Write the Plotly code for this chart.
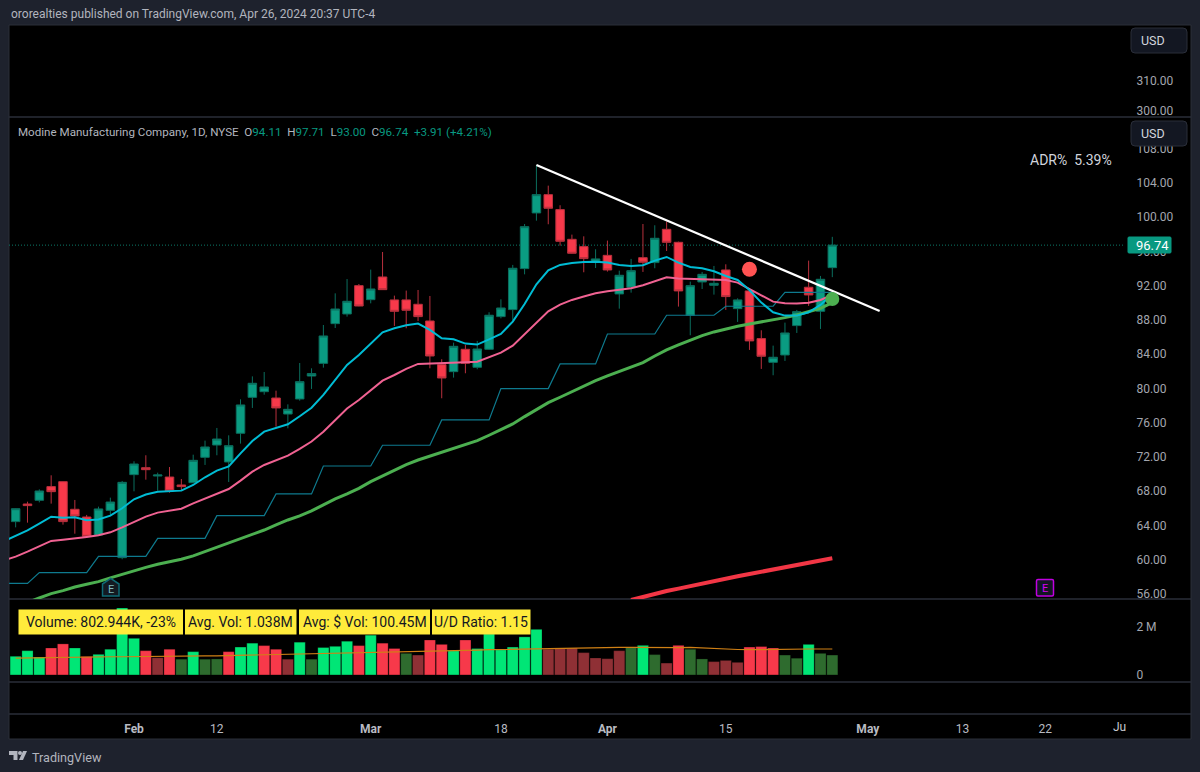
import plotly.graph_objects as go

# candles, one per trading day (Jan 17 - Apr 26 2024)
opens = [64.44, 66.50, 66.93, 68.53, 69.11, 65.88, 64.98, 62.88, 65.76, 60.23,
         69.93, 70.74, 69.77, 69.65, 68.72, 68.99, 71.95, 73.39, 71.41, 74.76,
         78.96, 79.62, 78.88, 77.01, 78.77, 81.45, 82.93, 87.57, 88.70, 92.01,
         90.37, 93.02, 90.34, 90.34, 89.83, 87.88, 82.78, 81.96, 84.57, 82.47,
         84.57, 88.39, 89.21, 94.00, 100.50, 102.64, 100.89, 97.42, 96.57, 94.81,
         95.55, 91.04, 91.82, 95.28, 94.70, 98.59, 97.07, 88.55, 92.44, 92.05,
         93.84, 89.32, 91.39, 85.82, 83.05, 83.91, 87.34, 91.82, 89.01, 94.11]
highs = [65.99, 66.77, 68.21, 69.85, 69.15, 66.97, 65.22, 66.19, 67.24, 69.19,
         71.49, 72.19, 70.16, 70.82, 69.42, 72.26, 73.90, 75.38, 74.52, 78.73,
         81.41, 81.92, 79.74, 78.14, 82.97, 82.35, 87.41, 91.11, 92.78, 92.20,
         93.88, 95.94, 90.84, 91.43, 91.50, 90.80, 83.41, 85.35, 85.08, 85.55,
         88.90, 90.41, 94.43, 99.21, 106.11, 103.69, 101.40, 97.97, 97.77, 96.26,
         97.27, 93.76, 95.13, 99.21, 99.06, 99.49, 97.15, 92.48, 93.61, 94.31,
         94.50, 90.53, 91.70, 86.79, 85.00, 87.69, 89.17, 94.93, 93.14, 97.71]
lows = [63.77, 64.32, 66.69, 66.54, 64.09, 63.03, 62.70, 62.76, 65.25, 60.04,
        67.98, 69.34, 68.06, 67.82, 68.06, 68.91, 71.06, 72.19, 69.07, 73.55,
        77.72, 79.27, 75.53, 75.34, 78.57, 79.94, 82.43, 87.06, 88.39, 89.60,
        89.94, 91.50, 87.30, 87.03, 87.88, 82.35, 78.85, 81.26, 81.77, 82.24,
        84.50, 88.19, 88.00, 93.33, 99.60, 99.18, 96.68, 95.75, 93.57, 94.07,
        93.65, 89.32, 91.19, 93.61, 94.04, 96.06, 89.56, 86.21, 91.62, 90.96,
        89.17, 87.77, 84.50, 82.28, 81.54, 83.21, 86.48, 89.64, 86.95, 93.00]
closes = [65.95, 66.31, 68.02, 67.94, 64.44, 65.10, 62.72, 65.92, 66.73, 69.03,
          71.17, 70.51, 69.89, 68.02, 68.53, 71.60, 73.16, 74.09, 73.31, 78.07,
          80.60, 80.17, 77.72, 77.56, 80.79, 81.73, 86.13, 89.28, 90.18, 89.63,
          91.62, 91.54, 89.01, 89.13, 88.39, 83.79, 81.22, 84.92, 82.94, 84.61,
          88.55, 89.40, 94.04, 98.90, 102.64, 101.05, 97.19, 95.79, 95.17, 95.13,
          93.84, 93.22, 93.76, 94.74, 97.54, 97.07, 91.39, 92.01, 93.33, 92.28,
          90.73, 90.34, 85.55, 83.76, 83.64, 86.48, 88.97, 90.92, 92.75, 96.74]

# moving averages, these start one bar before the first candle so they reach the pane edge
ema_fast = [62.15, 62.8, 63.42, 64.2, 65.02, 64.9, 64.94, 64.59, 64.7, 65.14, 66.0,
            67.05, 67.6, 67.94, 67.98, 68.06, 68.72, 69.62, 70.4, 70.9, 72.42,
            73.86, 74.95, 75.38, 75.81, 76.75, 77.75, 79.24, 81.0, 82.74, 83.91,
            85.2, 86.56, 87.03, 87.38, 87.57, 86.83, 85.86, 85.74, 85.24, 85.12,
            85.74, 86.36, 87.81, 89.87, 92.17, 93.8, 94.43, 94.66, 94.78, 94.81,
            94.7, 94.43, 94.31, 94.39, 94.93, 95.36, 94.7, 94.19, 94.04, 93.69,
            93.14, 92.67, 91.5, 90.03, 88.9, 88.51, 88.51, 88.9, 89.75, 91.04]
ema_slow = [59.9, 60.35, 60.93, 61.52, 62.18, 62.33, 62.53, 62.65, 62.84, 63.19, 63.77,
            64.44, 65.02, 65.49, 65.68, 65.95, 66.58, 67.16, 67.75, 68.25, 69.23,
            70.28, 71.06, 71.64, 72.15, 72.95, 73.8, 74.95, 76.3, 77.65, 78.65,
            79.82, 80.91, 81.57, 82.28, 82.86, 82.9, 82.9, 83.02, 83.06, 83.13,
            83.68, 84.18, 85.0, 86.36, 87.69, 89.01, 89.79, 90.34, 90.73, 91.12,
            91.35, 91.5, 91.7, 92.05, 92.56, 92.98, 92.83, 92.79, 92.79, 92.75,
            92.67, 92.36, 91.58, 90.88, 90.14, 89.95, 89.91, 90.02, 90.34, 90.92]
sma_50 = [54.2, 54.58, 55.0, 55.52, 56.03, 56.38, 56.8, 57.12, 57.43, 57.86, 58.28,
          58.71, 59.1, 59.45, 59.72, 60.04, 60.43, 60.93, 61.4, 61.87, 62.37,
          62.92, 63.46, 64.05, 64.63, 65.1, 65.69, 66.39, 67.09, 67.67, 68.33,
          69.11, 69.78, 70.48, 71.1, 71.64, 72.11, 72.5, 73.01, 73.44, 73.9,
          74.53, 75.15, 75.85, 76.71, 77.56, 78.34, 78.97, 79.63, 80.21, 80.91,
          81.46, 81.96, 82.47, 83.02, 83.79, 84.5, 85.08, 85.66, 86.17, 86.6,
          86.95, 87.26, 87.53, 87.77, 88.0, 88.27, 88.58, 88.93, 89.36, 90.02]
step_line = [57.23, 57.23, 57.23, 58.48, 58.48, 58.48, 58.48, 58.48, 60.39, 60.39, 60.39,
             60.39, 60.39, 62.49, 62.49, 62.49, 62.49, 62.49, 65.14, 65.14, 65.14,
             65.14, 65.14, 67.67, 67.67, 67.67, 67.67, 70.94, 70.94, 70.94, 70.94,
             70.94, 73.36, 73.36, 73.36, 73.36, 73.36, 76.32, 76.32, 76.32, 76.32,
             76.32, 79.98, 79.98, 79.98, 79.98, 79.98, 82.86, 82.86, 82.86, 82.86,
             86.36, 86.36, 86.36, 86.36, 86.36, 88.55, 88.55, 88.55, 88.55, 88.55,
             89.6, 89.6, 89.6, 89.6, 89.6, 91.23, 91.23, 91.23, 91.23, 91.23]
# long average only enters the pane near the end, first value is bar 52
sma_200 = [55.28, 55.67, 56.02, 56.33, 56.61, 56.92, 57.19, 57.46, 57.77, 58.05,
           58.32, 58.59, 58.83, 59.06, 59.33, 59.61, 59.88, 60.15]

# volume in millions
volume = [0.77, 1.00, 0.74, 1.11, 1.28, 1.11, 0.76, 0.85, 1.06, 2.76,
          1.51, 1.00, 0.71, 1.06, 0.65, 0.96, 0.65, 0.66, 0.96, 1.15,
          1.31, 1.21, 1.06, 0.65, 1.35, 0.65, 1.13, 1.18, 1.39, 1.21,
          1.64, 1.31, 1.09, 0.89, 0.82, 1.44, 1.26, 1.00, 1.44, 1.09,
          1.69, 1.04, 1.15, 1.57, 1.88, 1.06, 1.11, 1.11, 0.92, 0.70,
          0.67, 1.00, 1.13, 1.22, 0.84, 0.49, 1.22, 1.06, 0.66, 0.55,
          0.60, 0.52, 1.15, 1.17, 1.11, 0.82, 0.69, 1.26, 0.89, 0.82]
volume_kind = "GGGRRGRGGGGRrRgGggRGGRRrGgGGGRGRRgrRRGRGGGGGGrrrrrrrgGgrRggrrrRRRggGgg"
avg_volume = [0.69, 0.70, 0.70, 0.71, 0.72, 0.73, 0.73, 0.74, 0.75, 0.75,
              0.76, 0.76, 0.77, 0.77, 0.78, 0.78, 0.79, 0.79, 0.80, 0.81,
              0.82, 0.83, 0.84, 0.84, 0.85, 0.86, 0.87, 0.88, 0.89, 0.90,
              0.92, 0.93, 0.94, 0.94, 0.95, 0.96, 0.98, 0.99, 1.01, 1.02,
              1.04, 1.05, 1.07, 1.08, 1.10, 1.11, 1.12, 1.12, 1.13, 1.14,
              1.14, 1.14, 1.14, 1.13, 1.12, 1.11, 1.13, 1.14, 1.11, 1.09,
              1.07, 1.05, 1.04, 1.05, 1.07, 1.07, 1.07, 1.07, 1.07, 1.07]

# trendline ends and the two dots, as bar number / price
trend_bars = [44, 73]
trend_prices = [106.10, 89.05]
last_price = 96.74
red_dot = (62, 93.92)
green_dot = (69, 90.45)

tick_bars = [10, 17, 30, 41, 50, 60, 72, 80, 87]
tick_labels = ["<b>Feb</b>", "12", "<b>Mar</b>", "18", "<b>Apr</b>", "15", "<b>May</b>", "13", "22"]
price_ticks = [108, 104, 100, 96, 92, 88, 84, 80, 76, 72, 68, 64, 60, 56]
upper_ticks = [310, 300]

FONT = "Roboto, Inter, sans-serif"
BG = "#1e222d"
PANE_LINE = "#2a2e39"
TICK_COLOR = "#a3a6af"
TEAL = "#089981"
VOL_COLORS = {"G": "#00e676", "R": "#f7394a", "g": "#2e6b2e", "r": "#8f3035"}

W, H = 1200, 772


def px(x):
    return x / W


def py(y):
    return (H - y) / H


def rect(x0, y0, x1, y1, fill, line=None, layer="above", width=1):
    return dict(type="rect", xref="paper", yref="paper", x0=px(x0), x1=px(x1), y0=py(y0), y1=py(y1),
                fillcolor=fill, line=dict(color=line or fill, width=width if line else 0), layer=layer)


def poly(points, fill, line=None):
    path = "M " + " L ".join(f"{px(a):.5f},{py(b):.5f}" for a, b in points) + " Z"
    return dict(type="path", xref="paper", yref="paper", path=path, fillcolor=fill,
                line=dict(color=line or fill, width=1.5 if line else 0), layer="above")


def rounded(x0, y0, x1, y1, r, fill, line, width=1):
    path = (f"M {px(x0 + r)},{py(y0)} L {px(x1 - r)},{py(y0)} Q {px(x1)},{py(y0)} {px(x1)},{py(y0 + r)} "
            f"L {px(x1)},{py(y1 - r)} Q {px(x1)},{py(y1)} {px(x1 - r)},{py(y1)} "
            f"L {px(x0 + r)},{py(y1)} Q {px(x0)},{py(y1)} {px(x0)},{py(y1 - r)} "
            f"L {px(x0)},{py(y0 + r)} Q {px(x0)},{py(y0)} {px(x0 + r)},{py(y0)} Z")
    return dict(type="path", xref="paper", yref="paper", path=path, fillcolor=fill,
                line=dict(color=line, width=width), layer="above")


def label(x, y, text, size=12, color="#b2b5be", anchor="left"):
    return dict(xref="paper", yref="paper", x=px(x), y=py(y), text=text, showarrow=False,
                xanchor=anchor, yanchor="middle", align="left",
                font=dict(family=FONT, size=size, color=color))


bars = list(range(len(closes)))
line_bars = list(range(-1, len(closes)))

fig = go.Figure()

fig.add_trace(go.Candlestick(
    x=bars, open=opens, high=highs, low=lows, close=closes, whiskerwidth=0,
    increasing=dict(fillcolor="#0a9c82", line=dict(color="#0b6e5e", width=1)),
    decreasing=dict(fillcolor="#f7394a", line=dict(color="#b8303d", width=1)),
    showlegend=False, hoverinfo="skip",
))
fig.add_trace(go.Scatter(x=line_bars, y=step_line, mode="lines", line=dict(color="#0e7a8e", width=1.2)))
fig.add_trace(go.Scatter(x=bars[52:], y=sma_200, mode="lines", line=dict(color="#f23645", width=4)))
fig.add_trace(go.Scatter(x=line_bars, y=sma_50, mode="lines", line=dict(color="#4caf50", width=3)))
fig.add_trace(go.Scatter(x=line_bars, y=ema_slow, mode="lines", line=dict(color="#f06292", width=2)))
fig.add_trace(go.Scatter(x=line_bars, y=ema_fast, mode="lines", line=dict(color="#00bcd4", width=2)))
fig.add_trace(go.Scatter(x=trend_bars, y=trend_prices, mode="lines", line=dict(color="#ffffff", width=2.2)))
fig.add_trace(go.Scatter(x=[red_dot[0]], y=[red_dot[1]], mode="markers",
                         marker=dict(color="#ff5252", size=15)))
fig.add_trace(go.Scatter(x=[green_dot[0]], y=[green_dot[1]], mode="markers",
                         marker=dict(color="#4caf50", size=14)))

fig.add_trace(go.Bar(x=bars, y=volume, yaxis="y2",
                     marker=dict(color=[VOL_COLORS[k] for k in volume_kind],
                                 line=dict(color="rgba(0,0,0,0.25)", width=1))))
fig.add_trace(go.Scatter(x=bars, y=avg_volume, yaxis="y2", mode="lines",
                         line=dict(color="#d08015", width=1.2)))
# upper pane has nothing in it but its scale
fig.add_trace(go.Scatter(x=[], y=[], yaxis="y3"))

shapes = [
    rect(9, 25, 1191, 739, "#000000", PANE_LINE, layer="below"),
    dict(type="line", xref="x domain", yref="y", x0=0, x1=1, y0=last_price, y1=last_price,
         line=dict(color="#0b7a68", width=1, dash="1px,2px"), layer="below"),
]
for sep in [117, 599, 682, 714]:
    shapes.append(dict(type="line", xref="paper", yref="paper", x0=px(9), x1=px(1191), y0=py(sep), y1=py(sep),
                       line=dict(color=PANE_LINE, width=1.5), layer="below"))

annotations = [
    label(8.5, 14, "ororealties published on TradingView.com, Apr 26, 2024 20:37 UTC-4", 12),
    label(15.5, 132, "Modine Manufacturing Company, 1D, NYSE&#160;&#160;"
          f"O<span style='color:{TEAL}'>94.11</span>&#160;&#160;"
          f"H<span style='color:{TEAL}'>97.71</span>&#160;&#160;"
          f"L<span style='color:{TEAL}'>93.00</span>&#160;&#160;"
          f"C<span style='color:{TEAL}'>96.74</span>&#160;&#160;"
          f"<span style='color:{TEAL}'>+3.91 (+4.21%)</span>", 11.6),
    label(1028, 160, "ADR%&#160;&#160;5.39%", 14, "#d1d4dc"),
    label(1139, 41, "USD", 12.5, "#d1d4dc"),
    label(1139, 134, "USD", 12.5, "#d1d4dc"),
    label(1134, 245, f"{last_price:.2f}", 13, "#ffffff"),
    label(110.7, 589, "E", 11, "#7fb8bc", "center"),
    label(1045, 588, "E", 11, "#d400f0", "center"),
    label(1128, 727, "Ju", 12, "#c8cad0", "right"),
    label(30, 757, "TradingView", 12.6, "#b2b5be"),
]

# USD buttons, price tag
shapes.append(rounded(1131, 28, 1187, 53, 4, "#131722", PANE_LINE))
shapes.append(rounded(1131, 121, 1187, 146, 4, "#131722", PANE_LINE))
shapes.append(rounded(1128, 237, 1171, 253, 1, TEAL, TEAL))

# earnings badges
shapes.append(poly([(110.7, 578.5), (119, 584), (119, 596), (102.5, 596), (102.5, 584)], "#131a22", "#0f6a75"))
shapes.append(rounded(1036.5, 579.5, 1053.5, 596, 1.5, "#131722", "#c000e0", 1.5))

# yellow stat boxes over the volume pane
for x0, x1, text in [(18.5, 183, "Volume: 802.944K, -23%"), (185, 296.5, "Avg. Vol: 1.038M"),
                     (299, 430, "Avg: $ Vol: 100.45M"), (432, 530.5, "U/D Ratio: 1.15")]:
    shapes.append(rect(x0, 609.5, x1, 634.5, "#ffeb3b"))
    annotations.append(label((x0 + x1) / 2, 622, text, 14, "#131722", "center"))

# TradingView logo
shapes.append(poly([(9, 751), (17.5, 751), (17.5, 760), (13.5, 760), (13.5, 755), (9, 755)], "#b2b5be"))
shapes.append(poly([(23, 751), (27, 751), (23, 760), (19, 760)], "#b2b5be"))
shapes.append(dict(type="circle", xref="paper", yref="paper", x0=px(18), x1=px(22), y0=py(755), y1=py(751),
                   fillcolor="#b2b5be", line=dict(width=0), layer="above"))

axis_font = dict(family=FONT, size=12, color=TICK_COLOR)
y_common = dict(side="right", anchor="x", showgrid=False, zeroline=False, showline=False, ticks="outside",
                ticklen=8, tickcolor="rgba(0,0,0,0)", tickfont=axis_font, tickformat=".2f", tickmode="array",
                automargin=False)

fig.update_layout(
    width=W, height=H, autosize=False,
    margin=dict(l=0, r=0, t=0, b=0),
    paper_bgcolor=BG, plot_bgcolor="rgba(0,0,0,0)",
    showlegend=False, hovermode=False, bargap=0.06, boxgap=0.28, boxgroupgap=0,
    xaxis=dict(domain=[px(9), px(1125)], range=[-0.562, 93.73], type="linear", anchor="free", position=py(714),
               showgrid=False, zeroline=False, showline=False, rangeslider=dict(visible=False), automargin=False,
               tickmode="array", tickvals=tick_bars, ticktext=tick_labels, ticks="outside", ticklen=4,
               tickcolor="rgba(0,0,0,0)", tickfont=dict(family=FONT, size=12, color="#b9bbc2")),
    yaxis=dict(domain=[py(599), py(117)], range=[55.40, 111.71], tickvals=price_ticks, **y_common),
    yaxis2=dict(domain=[py(682), py(599)], range=[-0.29, 3.13], tickvals=[0, 2], ticktext=["0", "2 M"],
                **{k: v for k, v in y_common.items() if k != "tickformat"}),
    yaxis3=dict(domain=[py(117), py(25)], range=[298, 328.67], tickvals=upper_ticks, **y_common),
    shapes=shapes,
    annotations=annotations,
)

fig.write_html("out.html", config={"displayModeBar": False},
               post_script="document.body.style.margin='0'")
